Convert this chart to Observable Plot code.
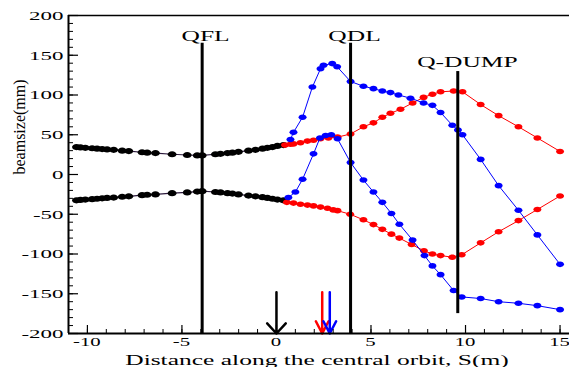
<!DOCTYPE html>
<html>
<head>
<meta charset="utf-8">
<script src="https://cdn.jsdelivr.net/npm/d3@7"></script>
<script src="https://cdn.jsdelivr.net/npm/@observablehq/plot@0.6"></script>
<style>
  html, body { margin: 0; padding: 0; background: #fff; }
  svg text { font-family: "Liberation Serif", "DejaVu Serif", serif; }
</style>
</head>
<body>
<div id="chart"></div>
<script>
// ---- data ----
const blackS = [-10.58, -10.37, -10.11, -9.75, -9.49, -9.22, -8.96, -8.61, -8.16, -7.81, -7.11, -6.84, -6.40, -5.52, -4.72, -4.19, -3.93, -3.23, -2.96, -2.59, -2.33, -2.01, -1.48, -1.11, -0.74, -0.48, -0.21, 0.05, 0.37];
const blackUpper = [34.5, 34, 33.5, 33, 32.5, 32, 31.5, 31, 30, 29.5, 28, 27.5, 27, 25.5, 24.5, 24, 24, 25.5, 26, 27, 27.5, 28.5, 30, 31, 32.5, 33.5, 34.5, 36, 37];
const blackLower = [-32.5, -32, -31.5, -31, -30.5, -30, -29.5, -29, -28, -27.5, -26, -25.5, -25, -23.5, -22.5, -21.5, -21, -22, -22.5, -23.5, -24, -25, -26.5, -27.5, -28.5, -29.5, -30.5, -31.5, -32.5];

const redUpperS = [0.45, 0.74, 0.9, 1.27, 1.64, 1.96, 2.33, 2.75, 3.23, 3.92, 4.6, 5.13, 5.6, 6.03, 6.56, 7.2, 7.78, 8.25, 8.68, 9.37, 9.84, 10.8, 11.75, 12.8, 13.8, 15.0];
const redUpper = [37, 38, 38.5, 40, 42, 43, 45, 46, 47, 51, 60, 65, 72, 77, 82, 90, 97, 101, 104, 105, 104, 88, 74, 60, 46, 29];
const redLowerS = [0.55, 0.9, 1.27, 1.64, 1.96, 2.33, 2.7, 3.0, 3.23, 3.9, 4.6, 5.13, 5.6, 6.08, 6.5, 7.15, 7.8, 8.25, 8.68, 9.3, 9.8, 10.8, 11.75, 12.8, 13.8, 15.0];
const redLower = [-35, -36, -37.5, -38.5, -39.5, -41, -42.5, -44.5, -45.5, -50, -57, -63, -69, -75, -80, -88, -96, -100, -102, -104, -101, -86, -72, -58, -44, -27];

const blueUpperS = [0.74, 0.9, 1.38, 1.9, 2.33, 2.49, 2.95, 3.21, 3.92, 4.6, 5.13, 5.6, 6.03, 6.45, 7.09, 7.78, 8.25, 8.68, 9.3, 9.6, 9.84, 10.8, 11.75, 12.8, 13.8, 15.0];
const blueUpper = [44, 53, 72, 110, 133, 137.5, 139.5, 135.5, 117, 111, 108, 105, 103, 100, 96, 90, 87, 78, 62, 56, 50, 19, -14, -45, -76, -113];
const blueLowerS = [0.63, 1.0, 1.38, 1.96, 2.3, 2.6, 2.9, 3.23, 3.92, 4.6, 5.13, 5.6, 6.08, 6.5, 7.2, 7.83, 8.25, 8.68, 9.37, 9.8, 10.8, 11.75, 12.8, 13.8, 15.0];
const blueLower = [-29, -22, -6, 26, 46, 49, 50, 45, 15, -7, -22, -35, -49, -62.5, -82.5, -102, -115, -126, -146, -154, -156, -160, -162, -165, -170];

const quadNames = ["QFL", "QDL", "Q-DUMP"];
const quadS = [-3.93, 3.92, 9.59];
const quadTop = [165, 165, 129.5];
const quadBottom = [-200, -200, -175];
const quadLabelS = [-3.75, 4.13, 10.1];
const quadLabelY = [167.3, 168.5, 135];

const arrowS = [0, 2.42, 2.82];
const arrowColors = ["#000000", "#ff0000", "#0000ff"];
const arrowTop = [-148, -148, -148];
const arrowTip = [-200, -200, -200];

const xTicks = [-10, -5, 0, 5, 10, 15];
const yTicks = [-200, -150, -100, -50, 0, 50, 100, 150, 200];
const xMinor = d3.range(-11, 16, 1);
const yMinor = d3.range(-200, 201, 10);

const xTitle = "Distance along the central orbit, S(m)";
const yTitle = "beamsize(mm)";

// ---- build tables ----
function series(sArr, vArr, key) { return sArr.map((s, i) => ({s, v: vArr[i], key})); }
const black = [...series(blackS, blackUpper, "bu"), ...series(blackS, blackLower, "bl")];
const red = [...series(redUpperS, redUpper, "ru"), ...series(redLowerS, redLower, "rl")];
const blue = [...series(blueUpperS, blueUpper, "uu"), ...series(blueLowerS, blueLower, "ul")];
const quads = quadNames.map((n, i) => ({n, s: quadS[i], top: quadTop[i], bottom: quadBottom[i], ls: quadLabelS[i], ly: quadLabelY[i]}));
const arrows = arrowS.map((s, i) => ({s, color: arrowColors[i], top: arrowTop[i], tip: arrowTip[i]}));

function ellipseSymbol(rx, ry) {
  return {
    draw(ctx) {
      const k = 0.5523;
      ctx.moveTo(rx, 0);
      ctx.bezierCurveTo(rx, ry * k, rx * k, ry, 0, ry);
      ctx.bezierCurveTo(-rx * k, ry, -rx, ry * k, -rx, 0);
      ctx.bezierCurveTo(-rx, -ry * k, -rx * k, -ry, 0, -ry);
      ctx.bezierCurveTo(rx * k, -ry, rx, -ry * k, rx, 0);
      ctx.closePath();
    }
  };
}
const ellipse = ellipseSymbol(4, 2.8);
const ellipseBlack = ellipseSymbol(4.4, 3.1);

const W = 569, H = 367, ML = 68, MR = 0, MT = 15, MB = 34;
const FW = W - ML - MR, FH = H - MT - MB;

const chart = Plot.plot({
  width: W, height: H,
  marginLeft: ML, marginRight: MR, marginTop: MT, marginBottom: MB,
  x: {domain: [-11, 15.5], label: null},
  y: {domain: [-200, 200], label: null},
  color: {type: "identity"},
  style: {background: "#fff", color: "#000", fontFamily: "Liberation Serif, serif"},
  marks: [
    // series
    Plot.line(black, {x: "s", y: "v", z: "key", stroke: "#2d1b3d", strokeWidth: 1.2}),
    Plot.dot(black, {x: "s", y: "v", symbol: ellipseBlack, fill: "#000", stroke: "none"}),
    Plot.line(red, {x: "s", y: "v", z: "key", stroke: "#ff0000", strokeWidth: 1}),
    Plot.dot(red, {x: "s", y: "v", symbol: ellipse, fill: "#ff0000", stroke: "none"}),
    Plot.line(blue, {x: "s", y: "v", z: "key", stroke: "#0000ff", strokeWidth: 1}),
    Plot.dot(blue, {x: "s", y: "v", symbol: ellipse, fill: "#0000ff", stroke: "none"}),
    // quadrupoles
    Plot.ruleX(quads, {x: "s", y1: "bottom", y2: "top", stroke: "#000", strokeWidth: 3}),
    Plot.text(quads, {x: "ls", y: "ly", text: "n", lineAnchor: "bottom", fontSize: 15, fill: "#000"}),
    // arrows
    Plot.arrow(arrows.slice(0, 1), {x1: "s", x2: "s", y1: "top", y2: "tip", stroke: "color", strokeWidth: 2.5, headLength: 13, headAngle: 85}),
    Plot.arrow(arrows.slice(1), {x1: "s", x2: "s", y1: "top", y2: "tip", stroke: "color", strokeWidth: 2.5, headLength: 11, headAngle: 55}),
    // frame
    Plot.ruleY([200], {stroke: "#000", strokeWidth: 1.5}),
    Plot.ruleY([-200], {stroke: "#000", strokeWidth: 2}),
    Plot.ruleX([-11], {stroke: "#000", strokeWidth: 2}),
    // inward ticks
    Plot.tickY(yTicks, {y: d => d, insetRight: FW - 10, stroke: "#000", strokeWidth: 1.2}),
    Plot.tickY(yMinor, {y: d => d, insetRight: FW - 5, stroke: "#000", strokeWidth: 1}),
    Plot.tickX(xTicks, {x: d => d, insetTop: FH - 8, stroke: "#000", strokeWidth: 1.2}),
    Plot.tickX(xMinor, {x: d => d, insetTop: FH - 4, stroke: "#000", strokeWidth: 1}),
    // axes labels
    Plot.axisY(yTicks, {tickSize: 0, tickPadding: 5, fontSize: 13.5, label: null, tickFormat: d => String(d)}),
    Plot.axisX(xTicks, {tickSize: 0, tickPadding: 3, fontSize: 13, label: null, tickFormat: d => String(d), dx: -0.5}),
    // titles
    Plot.text([xTitle], {text: d => d, frameAnchor: "bottom", dy: 31, dx: -2, lineAnchor: "bottom", fontSize: 15, fill: "#000"}),
    Plot.text([yTitle], {text: d => d, frameAnchor: "left", rotate: -90, dx: -44, lineAnchor: "bottom", fontSize: 16, fill: "#000"})
  ]
});

// horizontal stretch of the (non-rotated) texts, as in the reference
chart.querySelectorAll("text").forEach(t => {
  const tr = t.getAttribute("transform") || "";
  if (tr.includes("rotate")) return;
  const inXAxis = t.closest('[aria-label="x-axis tick label"]');
  t.setAttribute("transform", (tr + (inXAxis ? " scale(1.6,1)" : " scale(1.7,1)")).trim());
});

document.getElementById("chart").appendChild(chart);
</script>
</body>
</html>
